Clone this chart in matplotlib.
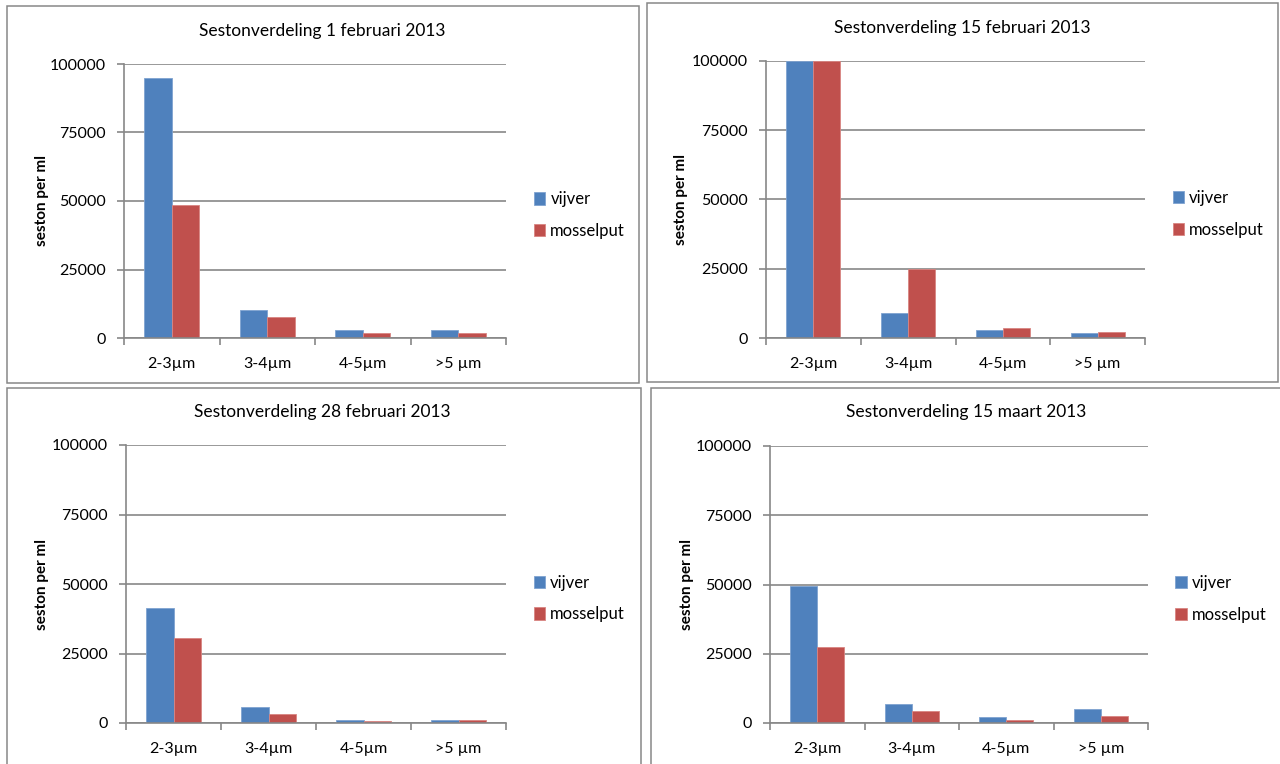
import matplotlib
matplotlib.use("Agg")
import matplotlib.pyplot as plt
from matplotlib.patches import Rectangle
import numpy as np

plt.rcParams['font.family'] = ['Lato', 'DejaVu Sans']

# seston counts per ml for each sampling date
categories = ["2-3µm", "3-4µm", "4-5µm", ">5 µm"]
series_names = ["vijver", "mosselput"]
titles = ["Sestonverdeling 1 februari 2013", "Sestonverdeling 15 februari 2013",
          "Sestonverdeling 28 februari 2013", "Sestonverdeling 15 maart 2013"]

vijver_1feb = [95000, 10100, 2900, 2900]
mossel_1feb = [48500, 7800, 2000, 2000]
vijver_15feb = [100000, 8900, 2900, 1900]
mossel_15feb = [100000, 24800, 3700, 2300]
vijver_28feb = [41200, 5800, 1000, 1000]
mossel_28feb = [30600, 3400, 600, 1100]
vijver_15mrt = [49300, 7000, 2200, 5200]
mossel_15mrt = [27400, 4500, 1200, 2600]

yticks = [0, 25000, 50000, 75000, 100000]

W, H = 1280, 764
fig = plt.figure(figsize=(W / 100, H / 100), dpi=100)

blue = "#4F81BD"
red = "#C0504D"
grey = "#878787"

# pixel boxes: axes (x0, y0, x1, y1), frame (x0, y0, x1, y1), title centre, ylabel x
panels = [
    dict(ax=(124, 64, 506, 338), frame=(7, 6, 639, 383), title=(322, 31), ylab=42,
         data=(vijver_1feb, mossel_1feb)),
    dict(ax=(766, 61, 1145, 338), frame=(647, 3, 1278, 382), title=(962, 28), ylab=681,
         data=(vijver_15feb, mossel_15feb)),
    dict(ax=(126, 445, 506, 723), frame=(7, 388, 641, 770), title=(322, 412), ylab=42,
         data=(vijver_28feb, mossel_28feb)),
    dict(ax=(770, 446, 1148, 723), frame=(651, 388, 1286, 770), title=(966, 412), ylab=687,
         data=(vijver_15mrt, mossel_15mrt)),
]

def px_box(x0, y0, x1, y1):
    return [x0 / W, 1 - y1 / H, (x1 - x0) / W, (y1 - y0) / H]

x = np.arange(len(categories))
bw = 1 / 3.5

for p, t in zip(panels, titles):
    fx0, fy0, fx1, fy1 = p["frame"]
    fig.patches.append(Rectangle((fx0 / W, 1 - fy1 / H), (fx1 - fx0) / W, (fy1 - fy0) / H,
                                 transform=fig.transFigure, fill=False,
                                 edgecolor=grey, lw=1.1, zorder=0))

    ax = fig.add_axes(px_box(*p["ax"]))
    v, m = p["data"]
    b1 = ax.bar(x - bw / 2, v, bw, color=blue, edgecolor="#7FA3D0", lw=0.6, zorder=3,
                label=series_names[0])
    b2 = ax.bar(x + bw / 2, m, bw, color=red, edgecolor="#D98582", lw=0.6, zorder=3,
                label=series_names[1])

    ax.set_xlim(-0.5, 3.5)
    ax.set_ylim(0, 100000)
    ax.set_yticks(yticks)
    ax.set_yticklabels([str(v) for v in yticks], fontsize=11.5)
    ax.set_xticks(x)
    ax.set_xticklabels(categories, fontsize=11.5)
    ax.set_xticks(np.arange(-0.5, 4.0, 1), minor=True)
    ax.tick_params(axis="x", which="major", length=0, pad=14)
    ax.tick_params(axis="x", which="minor", length=5, color=grey, width=1.2, direction="out")
    ax.tick_params(axis="y", length=5, color=grey, width=1.2, pad=8)

    ax.grid(axis="y", color=grey, lw=1.2, zorder=0)
    for s in ["top", "right"]:
        ax.spines[s].set_visible(False)
    for s in ["left", "bottom"]:
        ax.spines[s].set_color(grey)
        ax.spines[s].set_linewidth(1.2)
    ax.spines["bottom"].set_zorder(4)

    ax.legend(handles=[b1, b2], loc="center left", bbox_to_anchor=(1.055, 0.448),
              frameon=False, fontsize=12, handlelength=0.7, handleheight=0.75,
              handletextpad=0.3, labelspacing=0.95, borderaxespad=0)

    ax.set_ylabel("seston per ml", fontsize=11, fontweight="bold")
    ax.yaxis.set_label_coords((p["ylab"] + 7 - p["ax"][0]) / (p["ax"][2] - p["ax"][0]), 0.5)

    tx, ty = p["title"]
    fig.text(tx / W, 1 - ty / H, t, ha="center", va="center", fontsize=12.5)

fig.savefig("out.png", dpi=100)
